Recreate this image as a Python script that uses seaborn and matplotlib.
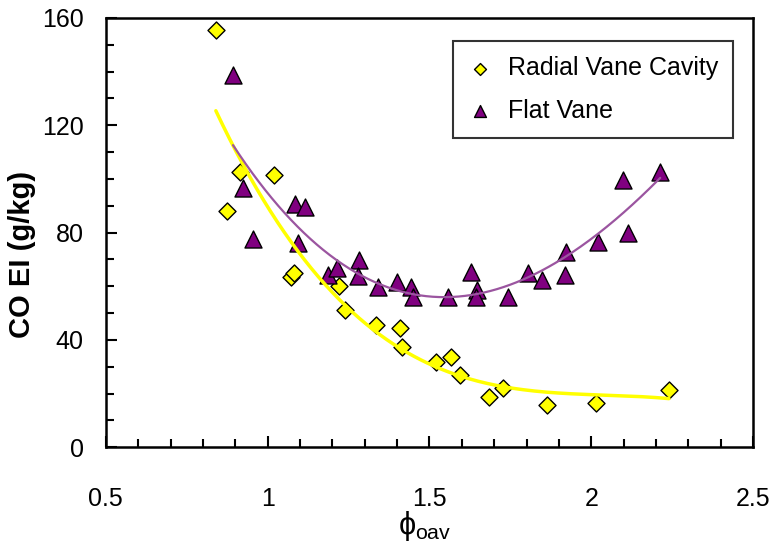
import numpy as np
import pandas as pd
import matplotlib
matplotlib.use("Agg")
import matplotlib.pyplot as plt
import seaborn as sns
from matplotlib.ticker import MultipleLocator, FixedLocator

# ---- data ----
rad_x = [0.84, 0.874, 0.914, 1.019, 1.072, 1.082, 1.220, 1.239, 1.335, 1.409,
         1.415, 1.520, 1.566, 1.594, 1.684, 1.727, 1.863, 2.015, 2.240]
rad_y = [155.6, 88.0, 102.6, 101.5, 63.4, 64.8, 60.0, 51.0, 45.5, 44.4,
         37.3, 31.7, 33.6, 26.9, 18.7, 22.0, 15.7, 16.4, 21.3]

flat_x = [0.893, 0.924, 0.955, 1.084, 1.115, 1.094, 1.186, 1.213, 1.282, 1.279,
          1.341, 1.399, 1.442, 1.448, 1.557, 1.628, 1.647, 1.644, 1.743, 1.805,
          1.848, 1.922, 1.919, 2.021, 2.098, 2.114, 2.213]
flat_y = [138.8, 96.6, 77.6, 90.7, 89.6, 76.0, 64.2, 66.8, 69.8, 63.8,
          59.7, 61.6, 59.7, 56.0, 56.0, 65.3, 58.6, 56.0, 56.0, 64.9,
          62.3, 72.8, 64.2, 76.5, 99.6, 79.9, 102.6]

series_names = ["Radial Vane Cavity", "Flat Vane"]
x_ticks = [0.5, 1.0, 1.5, 2.0, 2.5]
x_tick_labels = ["0.5", "1", "1.5", "2", "2.5"]
y_ticks = [0, 40, 80, 120, 160]
y_tick_labels = ["0", "40", "80", "120", "160"]

# ---- style ----
sns.set_theme(style="white")
plt.rcParams["font.family"] = ["Liberation Sans", "DejaVu Sans"]
plt.rcParams["mathtext.fontset"] = "custom"
plt.rcParams["mathtext.rm"] = "Liberation Sans"
plt.rcParams["mathtext.it"] = "Liberation Sans"
plt.rcParams["text.color"] = "black"
plt.rcParams["axes.labelcolor"] = "black"
plt.rcParams["xtick.color"] = "black"
plt.rcParams["ytick.color"] = "black"

YELLOW = "#FFFF00"
PURPLE = "#800080"
PURPLE_LINE = "#9b55a0"

fig = plt.figure(figsize=(7.78, 5.44), dpi=100)
ax = fig.add_axes([0.136, 0.178, 0.832, 0.789])

df_rad = pd.DataFrame({"x": rad_x, "y": rad_y, "s": series_names[0]})
df_flat = pd.DataFrame({"x": flat_x, "y": flat_y, "s": series_names[1]})

# trendlines (polynomial fits of the data, over the data range)
def trend(xs, ys, deg):
    c = np.polyfit(xs, ys, deg)
    xx = np.linspace(min(xs), max(xs), 200)
    return xx, np.polyval(c, xx)

tx, ty = trend(rad_x, rad_y, 3)
fx, fy = trend(flat_x, flat_y, 3)

sns.scatterplot(data=df_rad, x="x", y="y", marker="D", s=75, color=YELLOW,
                edgecolor="black", linewidth=1.0, ax=ax, zorder=3,
                label=series_names[0])
sns.scatterplot(data=df_flat, x="x", y="y", marker="^", s=150, color=PURPLE,
                edgecolor="black", linewidth=1.0, ax=ax, zorder=3,
                label=series_names[1])
sns.lineplot(x=tx, y=ty, color=YELLOW, linewidth=2.5, ax=ax, zorder=4,
             legend=False)
sns.lineplot(x=fx, y=fy, color=PURPLE_LINE, linewidth=1.6, ax=ax, zorder=4,
             legend=False)

ax.set_xlim(0.5, 2.5)
ax.set_ylim(0, 160)
ax.xaxis.set_major_locator(FixedLocator(x_ticks))
ax.set_xticklabels(x_tick_labels)
ax.yaxis.set_major_locator(FixedLocator(y_ticks))
ax.set_yticklabels(y_tick_labels)
ax.xaxis.set_minor_locator(MultipleLocator(0.1))
ax.yaxis.set_minor_locator(MultipleLocator(10))

ax.tick_params(axis="both", which="both", direction="in", color="black",
               labelcolor="black",
               bottom=True, left=True, top=False, right=False)
ax.tick_params(axis="both", which="major", length=8, width=1.5, labelsize=18)
ax.tick_params(axis="both", which="minor", length=6, width=1.5)
ax.tick_params(axis="x", which="major", pad=29)
ax.tick_params(axis="y", which="major", pad=16)

for sp in ax.spines.values():
    sp.set_visible(True)
    sp.set_color("black")
    sp.set_linewidth(1.8)

ax.set_ylabel("CO EI (g/kg)", fontsize=21, fontweight="bold", color="black")
ax.yaxis.set_label_coords(-0.108, 0.448)
ax.set_xlabel(r"$\phi_{\mathrm{oav}}$", fontsize=22, color="black")
ax.xaxis.set_label_coords(0.493, -0.145)

leg = ax.legend(loc="upper right", bbox_to_anchor=(0.969, 0.946),
                fontsize=18, frameon=True, fancybox=False, shadow=False,
                handlelength=1.0, handletextpad=0.6, labelspacing=0.75,
                borderpad=0.6, markerscale=0.7, borderaxespad=0)
leg.get_frame().set_edgecolor("black")
leg.get_frame().set_linewidth(1.5)
for t in leg.get_texts():
    t.set_color("black")

fig.savefig("out.png", dpi=100)
